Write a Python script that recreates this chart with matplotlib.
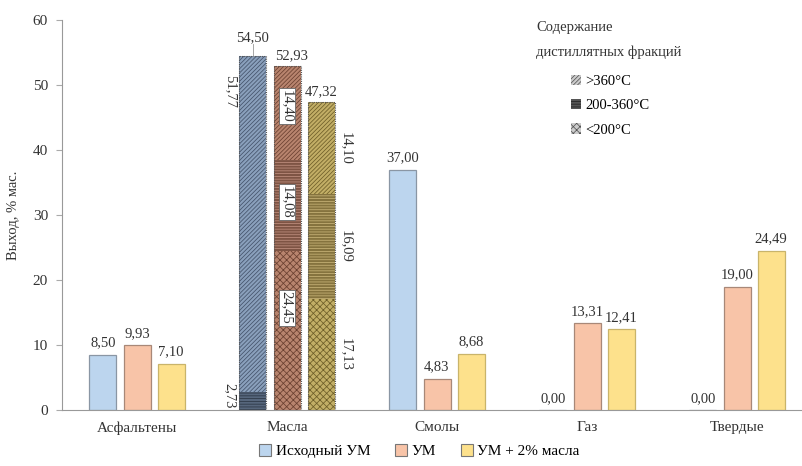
import numpy as np
import matplotlib.pyplot as plt
from matplotlib.patches import Patch

plt.rcParams['font.family'] = ['Liberation Serif', 'DejaVu Serif']
plt.rcParams['hatch.linewidth'] = 0.55

# data
categories = ["Асфальтены", "Масла", "Смолы", "Газ", "Твердые"]
series = ["Исходный УМ", "УМ", "УМ + 2% масла"]
vals_init = [8.50, 54.50, 37.00, 0.00, 0.00]
vals_um = [9.93, 52.93, 4.83, 13.31, 19.00]
vals_um2 = [7.10, 47.32, 8.68, 12.41, 24.49]

# Масла fractions: <200, 200-360, >360
frac_names = [">360°C", "200-360°C", "<200°C"]
oil_init = [0.00, 2.73, 51.77]
oil_um = [24.45, 14.08, 14.40]
oil_um2 = [17.13, 16.09, 14.10]

fills = ["#bcd5ee", "#f8c4a8", "#fde18c"]
edges = ["#8a96a4", "#a88878", "#c9b46a"]
oil_fill = [["#6a7c94", "#56667c", "#8aa0bc"],
            ["#b8846e", "#7e5444", "#b8846e"],
            ["#c2ae66", "#85733e", "#c2ae66"]]
oil_hatch = ["xxxxx", "------", "////////"]
oil_hcol = [["#3a4658", "#2c3644", "#44536a"],
            ["#6a4030", "#c09080", "#6a4030"],
            ["#6e5e28", "#c8b478", "#6e5e28"]]

def fmt(v):
    return f"{v:.2f}".replace(".", ",")

fig = plt.figure(figsize=(8.02, 4.66), dpi=100)
ax = fig.add_axes([62 / 802, 56 / 466, 740 / 802, 390 / 466])

x = np.arange(len(categories))
w = 0.18
step = 0.227
all_vals = [vals_init, vals_um, vals_um2]
oils = [oil_init, oil_um, oil_um2]
oil_idx = categories.index("Масла")

for s in range(3):
    xs = x + (s - 1) * step
    for i, v in enumerate(all_vals[s]):
        if i == oil_idx:
            continue
        ax.bar(xs[i], v, w, color=fills[s], edgecolor=edges[s], linewidth=0.9)
    # stacked oil bar
    bottom = 0
    for k, part in enumerate(oils[s]):
        if part > 0:
            ax.bar(xs[oil_idx], part, w, bottom=bottom, color=oil_fill[s][k],
                   edgecolor=oil_hcol[s][k], hatch=oil_hatch[k], linewidth=0)
        bottom += part
    ax.bar(xs[oil_idx], bottom, w, fill=False, edgecolor="#555555",
           linewidth=0.8, linestyle=(0, (1, 1)))

fs = 10.5
# value labels for ordinary bars
for s in range(3):
    xs = x + (s - 1) * step
    for i, v in enumerate(all_vals[s]):
        if i == oil_idx:
            continue
        ax.text(xs[i], v + 0.8, fmt(v), ha="center", va="bottom", fontsize=fs,
                color="#333333")

# oil totals
xo = x[oil_idx] + np.array([-1, 0, 1]) * step
ax.text(xo[0], vals_init[oil_idx] + 1.8, fmt(vals_init[oil_idx]), ha="center",
        va="bottom", fontsize=fs, color="#333333")
ax.plot([xo[0], xo[0]], [vals_init[oil_idx], vals_init[oil_idx] + 1.8],
        color="#999999", lw=0.6)
ax.text(xo[1] - w / 2 + 0.01, vals_um[oil_idx] + 0.6, fmt(vals_um[oil_idx]),
        ha="left", va="bottom", fontsize=fs, color="#333333")
ax.text(xo[2] - w / 2 - 0.02, vals_um2[oil_idx] + 0.6, fmt(vals_um2[oil_idx]),
        ha="left", va="bottom", fontsize=fs, color="#333333")

# fraction labels
ax.text(xo[0] - w / 2 - 0.02, vals_init[oil_idx] - 3, fmt(oil_init[2]),
        rotation=270, ha="right", va="top", fontsize=fs, color="#333333")
ax.text(xo[0] - w / 2 - 0.02, 0.3, fmt(oil_init[1]),
        rotation=270, ha="right", va="bottom", fontsize=fs, color="#333333")
cum = np.cumsum([0] + oil_um)
shift = [3.5, 0.5, 1.0]
for k, part in enumerate(oil_um):
    ax.text(xo[1], cum[k] + part / 2 + shift[k], fmt(part), rotation=270,
            ha="center", va="center", fontsize=fs, color="#333333",
            bbox=dict(boxstyle="square,pad=0.1", fc="white", ec="#666666", lw=0.6))
cum = np.cumsum([0] + oil_um2)
for k, part in enumerate(oil_um2):
    ax.text(xo[2] + w / 2 + 0.03, cum[k] + part / 2, fmt(part), rotation=270,
            ha="left", va="center", fontsize=fs, color="#333333")

ax.set_xlim(-0.5, -0.5 + 740 / 150)
ax.set_ylim(0, 60)
ax.set_yticks(np.arange(0, 61, 10))
ax.set_xticks(x)
ax.set_xticklabels(categories, fontsize=fs + 0.5, color="#333333")
ax.tick_params(axis="x", length=0, pad=8)
ax.tick_params(axis="y", length=4, color="#aaaaaa", labelsize=fs + 0.5,
               labelcolor="#333333", pad=6)
for sp in ["top", "right"]:
    ax.spines[sp].set_visible(False)
ax.spines["left"].set_color("#999999")
ax.spines["bottom"].set_color("#999999")
ax.set_ylabel("Выход, % мас.", fontsize=fs, color="#333333", labelpad=9)

# series legend
handles = [Patch(facecolor=fills[s], edgecolor="#777777", linewidth=0.8)
           for s in range(3)]
fig.legend(handles, series, loc="center", bbox_to_anchor=(0.523, 0.032),
           ncol=3, frameon=False, fontsize=fs + 0.5, handlelength=0.8,
           handleheight=0.8, handletextpad=0.3, columnspacing=1.6)

# fraction legend
fig.text(536 / 802, 1 - 27 / 466, "Содержание", fontsize=fs, color="#333333",
         va="center", ha="left")
fig.text(536 / 802, 1 - 52 / 466, "дистиллятных фракций", fontsize=fs,
         color="#333333", va="center", ha="left")
fhandles = [Patch(facecolor="#cccccc", edgecolor="#555555", hatch=oil_hatch[2], lw=0),
            Patch(facecolor="#555555", edgecolor="#222222", hatch=oil_hatch[1], lw=0),
            Patch(facecolor="#cccccc", edgecolor="#555555", hatch=oil_hatch[0], lw=0)]
fig.legend(fhandles, frac_names, loc="upper left",
           bbox_to_anchor=(558 / 802, 1 - 62 / 466), frameon=False,
           fontsize=fs, handlelength=0.7, handleheight=0.7,
           handletextpad=0.3, labelspacing=0.75)

plt.savefig("out.png", dpi=100)
